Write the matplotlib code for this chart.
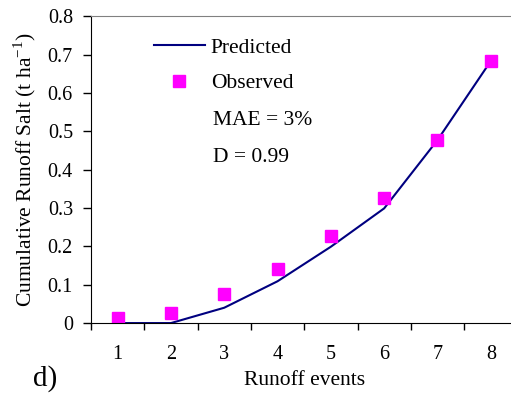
import numpy as np
import matplotlib.pyplot as plt

# data
events = [1, 2, 3, 4, 5, 6, 7, 8]
predicted = [0.0, 0.0, 0.04, 0.109, 0.199, 0.299, 0.477, 0.683]
observed = [0.013, 0.027, 0.076, 0.14, 0.227, 0.326, 0.477, 0.683]
y_ticks = [0, 0.1, 0.2, 0.3, 0.4, 0.5, 0.6, 0.7, 0.8]
y_labels = ["0", "0.1", "0.2", "0.3", "0.4", "0.5", "0.6", "0.7", "0.8"]

plt.rcParams["font.family"] = ["Liberation Serif", "DejaVu Serif"]
plt.rcParams["font.size"] = 15.5

fig = plt.figure(figsize=(5.11, 3.94), dpi=100)
# right edge of the plot area runs past the figure, as in the original
ax = fig.add_axes([0.178, 0.180, 0.8346, 0.779])

ax.plot(events, predicted, color="#000080", lw=1.5, label="Predicted")
ax.plot(events, observed, ls="none", marker="s", ms=8, color="#ff00ff",
        label="Observed")

ax.set_xlim(0.5, 8.5)
ax.set_ylim(0, 0.8)
ax.set_yticks(y_ticks)
ax.set_yticklabels(y_labels)

# category axis: ticks between categories, labels at centres
ax.set_xticks(np.arange(0.5, 9.0, 1.0))
ax.set_xticklabels([])
ax.set_xticks(events, minor=True)
ax.set_xticklabels([str(e) for e in events], minor=True)
ax.tick_params(axis="x", which="major", direction="out", length=5, width=1)
ax.tick_params(axis="x", which="minor", length=0, pad=16, labelsize=14.5)
ax.tick_params(axis="y", direction="out", length=6, width=1, pad=7,
               labelsize=14.5)

ax.spines["right"].set_visible(False)
ax.spines["top"].set_color("#808080")

ax.set_xlabel("Runoff events", labelpad=5)
ax.set_ylabel("Cumulative Runoff Salt (t ha$^{\\mathregular{-1}}$)", labelpad=7)

leg = ax.legend(loc="upper left", bbox_to_anchor=(0.147, 0.93), frameon=False,
                borderpad=0, borderaxespad=0,
                handlelength=2.4, handletextpad=0.25, labelspacing=0.72)

ax.text(0.286, 0.661, "MAE = 3%", transform=ax.transAxes, va="center")
ax.text(0.286, 0.541, "D = 0.99", transform=ax.transAxes, va="center")

fig.text(0.064, 0.02, "d)", fontsize=21)

fig.savefig("out.png", dpi=100)
